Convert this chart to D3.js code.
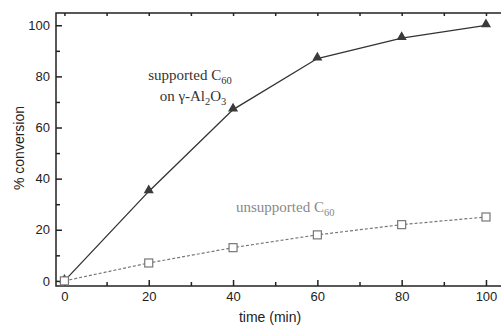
<!DOCTYPE html>
<html>
<head>
<meta charset="utf-8">
<script src="https://cdn.jsdelivr.net/npm/d3@7"></script>
<style>
  body { margin: 0; background: #fff; }
  svg { display: block; }
</style>
</head>
<body>
<div id="chart"></div>
<script>
var times = [0, 20, 40, 60, 80, 100];
var supported = [0, 35, 67, 87, 95, 100];
var unsupported = [0, 7, 13, 18, 22, 25];
var xTicks = [0, 20, 40, 60, 80, 100];
var yTicks = [0, 20, 40, 60, 80, 100];

var w = 501, h = 325;
// plot box edges (the right edge falls just outside the picture)
var boxL = 56, boxT = 13, boxR = 510, boxB = 286;

var svg = d3.select("#chart").append("svg")
    .attr("width", w)
    .attr("height", h);

var xScale = d3.scaleLinear().domain([-2, 105.7]).range([boxL, boxR]);
var yScale = d3.scaleLinear().domain([-2, 104.8]).range([boxB, boxT]);

// frame
svg.append("rect")
    .attr("x", boxL).attr("y", boxT)
    .attr("width", boxR - boxL).attr("height", boxB - boxT)
    .attr("fill", "none").attr("stroke", "#222").attr("stroke-width", 1.5);

// bottom axis, ticks inward
var xAxis = d3.axisBottom(xScale).tickValues(xTicks).tickSize(-6).tickPadding(6);
var gx = svg.append("g").attr("transform", "translate(0," + boxB + ")").call(xAxis);
gx.select(".domain").remove();
var xMinor = d3.axisBottom(xScale).tickValues([10, 30, 50, 70, 90]).tickSize(-4).tickFormat("");
var gxm = svg.append("g").attr("transform", "translate(0," + boxB + ")").call(xMinor);
gxm.select(".domain").remove();

// top axis small ticks
var xTop = d3.axisTop(xScale).tickValues(d3.range(0, 101, 10)).tickSize(-3).tickFormat("");
var gxt = svg.append("g").attr("transform", "translate(0," + boxT + ")").call(xTop);
gxt.select(".domain").remove();

// left axis
var yAxis = d3.axisLeft(yScale).tickValues(yTicks).tickSize(-6).tickPadding(6);
var gy = svg.append("g").attr("transform", "translate(" + boxL + ",0)").call(yAxis);
gy.select(".domain").remove();
var yMinor = d3.axisLeft(yScale).tickValues([10, 30, 50, 70, 90]).tickSize(-4).tickFormat("");
var gym = svg.append("g").attr("transform", "translate(" + boxL + ",0)").call(yMinor);
gym.select(".domain").remove();

svg.selectAll(".tick line").attr("stroke", "#222").attr("stroke-width", 1.5);
svg.selectAll(".tick text")
    .attr("fill", "#222")
    .style("font-family", "Liberation Sans, Arial, sans-serif")
    .style("font-size", "13px");

// axis titles
svg.append("text")
    .attr("x", 270).attr("y", 322)
    .attr("text-anchor", "middle")
    .style("font-family", "Liberation Sans, Arial, sans-serif")
    .style("font-size", "14px")
    .attr("fill", "#222")
    .text("time (min)");

svg.append("text")
    .attr("transform", "translate(24,148) rotate(-90)")
    .attr("text-anchor", "middle")
    .style("font-family", "Liberation Sans, Arial, sans-serif")
    .style("font-size", "14px")
    .attr("fill", "#222")
    .text("% conversion");

var line = d3.line()
    .x(function(d, i){ return xScale(times[i]); })
    .y(function(d){ return yScale(d); });

// supported series
svg.append("path")
    .datum(supported)
    .attr("d", line)
    .attr("fill", "none")
    .attr("stroke", "#333")
    .attr("stroke-width", 1.3);

svg.selectAll(".tri")
    .data(supported)
    .enter()
    .append("path")
    .attr("class", "tri")
    .attr("d", d3.symbol().type(d3.symbolTriangle).size(44))
    .attr("transform", function(d, i){
        return "translate(" + xScale(times[i]) + "," + (yScale(d) - 1) + ")";
    })
    .attr("fill", "#3a3a3a");

// unsupported series
svg.append("path")
    .datum(unsupported)
    .attr("d", line)
    .attr("fill", "none")
    .attr("stroke", "#777")
    .attr("stroke-width", 1.2)
    .attr("stroke-dasharray", "3,2");

svg.selectAll(".sq")
    .data(unsupported)
    .enter()
    .append("rect")
    .attr("class", "sq")
    .attr("x", function(d, i){ return xScale(times[i]) - 4; })
    .attr("y", function(d){ return yScale(d) - 4; })
    .attr("width", 8)
    .attr("height", 8)
    .attr("fill", "#fff")
    .attr("stroke", "#777")
    .attr("stroke-width", 1.2);

// annotations
var serif = "Liberation Serif, Times New Roman, serif";
var t1 = svg.append("text")
    .attr("x", 190).attr("y", 80)
    .attr("text-anchor", "middle")
    .style("font-family", serif).style("font-size", "15px")
    .attr("fill", "#333");
t1.append("tspan").text("supported C");
t1.append("tspan").attr("dy", 4).style("font-size", "10.5px").text("60");

var t2 = svg.append("text")
    .attr("x", 193).attr("y", 101)
    .attr("text-anchor", "middle")
    .style("font-family", serif).style("font-size", "15px")
    .attr("fill", "#333");
t2.append("tspan").text("on \u03b3-Al");
t2.append("tspan").attr("dy", 4).style("font-size", "10.5px").text("2");
t2.append("tspan").attr("dy", -4).text("O");
t2.append("tspan").attr("dy", 4).style("font-size", "10.5px").text("3");

var t3 = svg.append("text")
    .attr("x", 236).attr("y", 212)
    .style("font-family", serif).style("font-size", "15px")
    .attr("fill", "#888");
t3.append("tspan").text("unsupported C");
t3.append("tspan").attr("dy", 4).style("font-size", "10.5px").text("60");
</script>
</body>
</html>
